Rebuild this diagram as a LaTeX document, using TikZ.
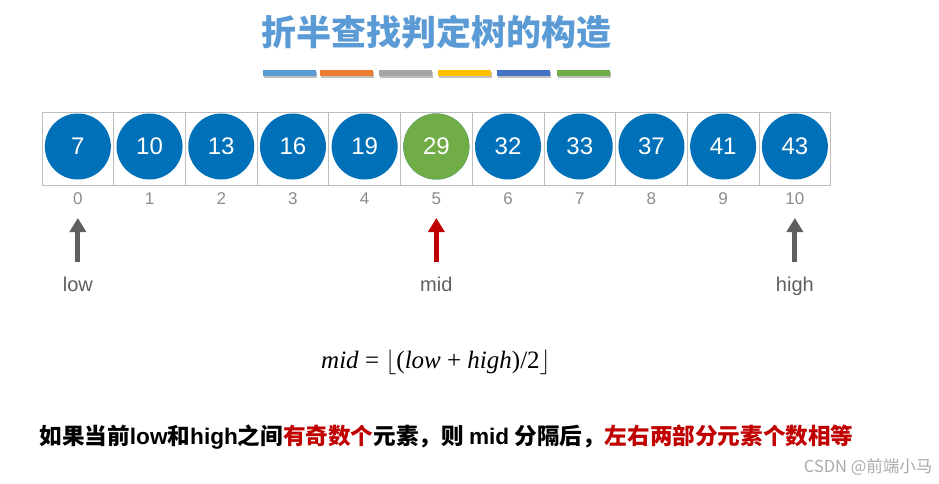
\documentclass[tikz,border=0pt]{standalone}
\usepackage{fontspec}
\setmainfont{Liberation Sans}
\newfontfamily\cjk{Noto Sans CJK SC}
\newfontfamily\serifz{Liberation Serif}
\usetikzlibrary{arrows.meta}
\definecolor{titleblue}{HTML}{5B9BD5}
\definecolor{barA}{HTML}{5B9BD5}
\definecolor{barB}{HTML}{ED7D31}
\definecolor{barC}{HTML}{A5A5A5}
\definecolor{barD}{HTML}{FFC000}
\definecolor{barE}{HTML}{4472C4}
\definecolor{barF}{HTML}{70AD47}
\definecolor{circblue}{HTML}{0071B9}
\definecolor{circgreen}{HTML}{70AD47}
\definecolor{cellgray}{HTML}{BDBDBD}
\definecolor{idxgray}{HTML}{8C8C8C}
\definecolor{arrgray}{HTML}{5F5F5F}
\definecolor{arrred}{HTML}{C00000}
\definecolor{txtred}{HTML}{C00000}
\definecolor{wmgray}{HTML}{ABABAB}
\tikzset{
  cellbox/.style={draw=cellgray, line width=0.8pt, minimum width=71.7pt, minimum height=73pt, inner sep=0pt},
  ball/.style={circle, fill=circblue, minimum size=66pt, inner sep=0pt, text=white, font=\fontsize{24}{26}\selectfont},
  idx/.style={text=idxgray, font=\fontsize{17}{20}\selectfont},
  ptrlabel/.style={text=arrgray, anchor=base, font=\fontsize{20}{24}\selectfont},
  ptr/.style={line width=5pt, -{Triangle[width=16pt,length=14pt]}}
}
\begin{document}
\begin{tikzpicture}[x=1pt,y=-1pt]
\useasboundingbox (0,0) rectangle (939,483);
\fill[white] (0,0) rectangle (939,483);
% title
\node[text=titleblue, font=\cjk\bfseries\fontsize{35}{40}\selectfont] (title) at (436,32) {折半查找判定树的构造};
% colour bars
\foreach \x/\c [count=\k] in {263/barA,320/barB,379/barC,438/barD,497/barE,557/barF}{
  \fill[black!25] (\x+1,72) rectangle +(53,6);
  \fill[\c] (\x,70) rectangle +(53,6);
}
% cells and circles
\foreach \v [count=\j from 0] in {7,10,13,16,19,29,32,33,37,41,43}{
  \node[cellbox] (b\j) at ({42+71.7*\j+35.85},148.5) {};
  \node[ball] (c\j) at ({42+71.7*\j+35.85},146.5) {\v};
  \node[idx] (i\j) at ({42+71.7*\j+35.85},199) {\j};
}
\node[ball, fill=circgreen] (c5) at (c5.center) {29};
% pointers
\node[ptrlabel] (low) at (i0 |- 0,291) {low};
\node[ptrlabel] (mid) at (i5 |- 0,291) {mid};
\node[ptrlabel] (high) at (i10 |- 0,291) {high};
\coordinate (lowS) at (i0 |- 0,262);
\coordinate (lowT) at (i0 |- 0,218);
\coordinate (midS) at (i5 |- 0,262);
\coordinate (midT) at (i5 |- 0,218);
\coordinate (highS) at (i10 |- 0,262);
\coordinate (highT) at (i10 |- 0,218);
\draw[ptr, arrgray] (lowS) -- (lowT);
\draw[ptr, arrred] (midS) -- (midT);
\draw[ptr, arrgray] (highS) -- (highT);
% formula
\node[font=\serifz\fontsize{25}{28}\selectfont] (formula) at (436,362)
  {\textit{mid} = $\lfloor$(\textit{low} + \textit{high})/2$\rfloor$};
% explanation
\node[anchor=west, font=\cjk\bfseries\fontsize{22.6}{26}\selectfont] (expl) at (36,437)
  {如果当前{\rmfamily\bfseries low}和{\rmfamily\bfseries high}之间\textcolor{txtred}{有奇数个}元素，则 {\rmfamily\bfseries mid} 分隔后，\textcolor{txtred}{左右两部分元素个数相等}};
% watermark
\node[anchor=east, text=wmgray, font=\cjk\fontsize{16.5}{18}\selectfont] (wm) at (936,467) {CSDN @前端小马};
\end{tikzpicture}
\end{document}
